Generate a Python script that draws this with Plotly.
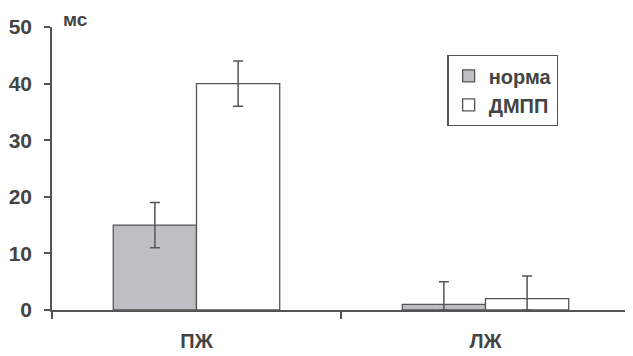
import plotly.graph_objects as go

categories = ["ПЖ", "ЛЖ"]
norma = [15, 1]
norma_err_plus = [4, 4]
norma_err_minus = [4, 1]
dmpp = [40, 2]
dmpp_err_plus = [4, 4]
dmpp_err_minus = [4, 2]
series_names = ["норма", "ДМПП"]
y_ticks = [0, 10, 20, 30, 40, 50]

FONT = "Liberation Sans, Arial, sans-serif"
TXT = "#444444"
LINE = "#555555"

# the page body has an 8px margin, so the figure is 8px smaller and margins shifted
fig = go.Figure()
fig.add_bar(
    x=categories, y=norma, name=series_names[0], legendgroup="a",
    marker=dict(color="#bebfc3", line=dict(color=LINE, width=1.3)),
    error_y=dict(type="data", array=norma_err_plus, arrayminus=norma_err_minus,
                 color=LINE, thickness=1.5, width=5),
)
fig.add_bar(
    x=categories, y=dmpp, name=series_names[1], legendgroup="b",
    marker=dict(color="#ffffff", line=dict(color=LINE, width=1.3)),
    error_y=dict(type="data", array=dmpp_err_plus, arrayminus=dmpp_err_minus,
                 color=LINE, thickness=1.5, width=5),
)

fig.update_layout(
    width=625, height=348,
    margin=dict(l=44, r=3, t=19, b=46, autoexpand=False),
    paper_bgcolor="white", plot_bgcolor="white",
    barmode="group", bargap=0.424, bargroupgap=0,
    font=dict(family=FONT, color=TXT, size=20, weight="bold"),
    showlegend=True,
    legend=dict(
        x=0.684, y=0.901, xanchor="left", yanchor="top",
        bordercolor=LINE, borderwidth=1.3, bgcolor="white",
        font=dict(family=FONT, size=20, color=TXT, weight="bold"),
        itemwidth=30, traceorder="grouped", tracegroupgap=0,
    ),
    xaxis=dict(
        automargin=False,
        showline=True, linecolor=LINE, linewidth=1.5,
        ticks="outside", tickson="boundaries", ticklen=7, tickcolor=LINE, tickwidth=1.5,
        tickfont=dict(family=FONT, size=20, color=TXT, weight="bold"),
        ticklabelstandoff=12,
        showgrid=False, zeroline=False,
    ),
    yaxis=dict(
        automargin=False,
        range=[0, 50], tickvals=y_ticks,
        showline=True, linecolor=LINE, linewidth=1.5,
        ticks="outside", ticklen=6, tickcolor=LINE, tickwidth=1.5,
        tickfont=dict(family=FONT, size=21, color=TXT, weight="bold"),
        ticklabelstandoff=8,
        showgrid=False, zeroline=False,
    ),
    annotations=[dict(
        text="мс", xref="paper", yref="paper", x=0.016, y=1.025,
        xanchor="left", yanchor="middle", showarrow=False,
        font=dict(family=FONT, size=19, color=TXT, weight="bold"),
    )],
)

fig.write_html("out.html")
